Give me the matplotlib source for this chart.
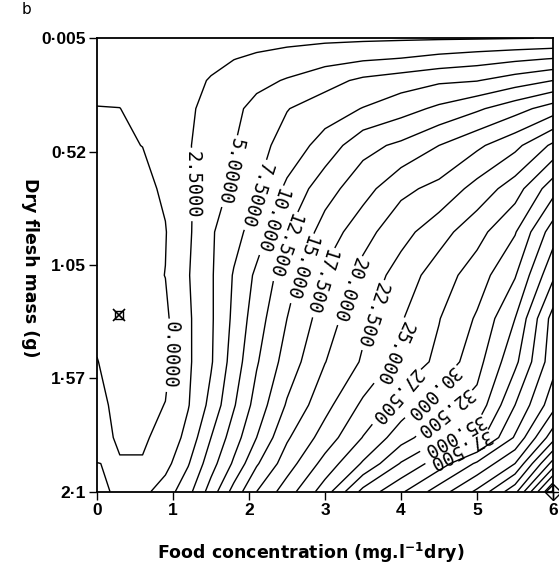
import matplotlib
matplotlib.use("Agg")
import matplotlib.pyplot as plt
import numpy as np

# grid columns: food concentration (mg/l dry)
food = np.array([0, 0.3, 0.6, 0.9, 1.2, 1.5, 1.8, 2.1, 2.5, 3.0, 3.5, 4.0, 4.5, 5.0, 5.5, 6.0])
# grid rows: dry flesh mass (g)
mass = np.array([0.005, 0.1, 0.2, 0.33, 0.5, 0.7, 0.9, 1.1, 1.3, 1.5, 1.7, 1.85, 1.97, 2.1])

# response surface, one row per mass value
growth = np.array([
    [1.0, 1.05, 1.1, 1.2, 1.3, 1.4, 1.5, 1.6, 1.75, 2.0, 2.1, 2.2, 2.28, 2.35, 2.45, 2.55],
    [0.8, 0.85, 0.95, 1.1, 1.4, 1.8, 2.45, 2.9, 3.5, 4.1, 4.7, 5.1, 5.8, 6.4, 7.0, 7.6],
    [0.5, 0.55, 0.75, 1.1, 1.7, 2.7, 3.6, 4.3, 5.2, 6.6, 8.0, 8.8, 9.6, 9.9, 11.2, 12.5],
    [-0.05, -0.02, 0.5, 1.1, 2.1, 3.3, 4.4, 5.8, 7.4, 8.8, 10.1, 11.5, 13.0, 14.6, 16.5, 18.7],
    [-0.3, -0.2, 0.02, 1.0, 2.3, 3.7, 4.9, 6.6, 8.5, 11.0, 14.2, 15.5, 17.5, 19.5, 21.8, 25.5],
    [-0.4, -0.5, -0.5, 0.3, 2.2, 3.8, 5.5, 7.4, 10.5, 14.0, 16.5, 19.4, 20.7, 23.4, 26.3, 31.5],
    [-0.5, -0.7, -0.6, -0.1, 2.1, 4.7, 6.6, 8.7, 12.35, 16.0, 19.1, 21.6, 24.0, 26.6, 29.8, 36.3],
    [-0.5, -0.8, -0.6, 0.03, 2.35, 4.7, 7.7, 10.5, 13.9, 17.9, 20.8, 23.6, 26.25, 28.75, 32.3, 39.5],
    [-0.4, -1.0, -0.8, -0.42, 2.12, 4.66, 8.04, 11.36, 15.0, 18.75, 21.97, 24.8, 27.4, 30.3, 35.0, 43.5],
    [0.05, -0.7, -0.8, -0.5, 2.1, 4.74, 8.64, 12.25, 16.07, 19.93, 22.8, 25.8, 28.1, 31.6, 36.9, 44.0],
    [0.4, -0.4, -0.6, 0.05, 2.35, 5.74, 9.75, 13.5, 17.77, 21.7, 25.5, 28.6, 31.6, 33.3, 40.0, 46.5],
    [0.25, -0.1, -0.3, 0.7, 3.33, 7.5, 11.3, 15.0, 19.67, 23.6, 27.6, 31.4, 34.5, 36.3, 42.8, 51.5],
    [-0.01, 0.05, 0.15, 1.67, 4.8, 8.95, 12.9, 17.2, 21.3, 25.9, 30.3, 35.2, 38.8, 42.9, 47.5, 58.5],
    [-0.4, 0.3, 1.82, 3.7, 6.7, 11.1, 15.96, 20.0, 23.8, 28.75, 35.8, 39.6, 43.75, 48.0, 54.2, 68.0],
])

levels = np.arange(0, 70, 2.5)
labelled = levels[:16]

# where each contour label sits (food, mass)
label_pos = [(0.96, 1.47), (1.29, 0.68), (1.76, 0.62), (2.10, 0.73), (2.33, 0.85),
             (2.51, 0.97), (2.71, 1.07), (2.96, 1.13), (3.33, 1.17), (3.60, 1.28),
             (3.83, 1.45), (3.94, 1.66), (4.40, 1.64), (4.56, 1.73), (4.67, 1.83),
             (4.75, 1.89)]

# optimum mark and the corner mark
opt_food, opt_mass = [0.29], [1.284]
corner_food, corner_mass = [6.0], [2.1]

ytick_vals = np.linspace(0.005, 2.1, 5)
ytick_labels = ["0·005", "0·52", "1·05", "1·57", "2·1"]
xtick_vals = [0, 1, 2, 3, 4, 5, 6]

fig = plt.figure(figsize=(5.59, 5.70), dpi=100)
ax = fig.add_axes([0.1735, 0.1374, 0.8158, 0.7954])
ax.set_xlim(0, 6)
ax.set_ylim(2.1, 0.005)

cs = ax.contour(food, mass, growth, levels=levels, colors="black", linewidths=1.0)


def nearest_on_path(path, point):
    """Closest point (screen space) on a contour path to a data point."""
    verts = ax.transData.transform(path.vertices)
    codes = path.codes
    p = ax.transData.transform(point)
    best, best_d = None, np.inf
    for k in range(len(verts) - 1):
        if codes is not None and codes[k + 1] == 1:
            continue
        a, b = verts[k], verts[k + 1]
        ab = b - a
        t = np.clip(np.dot(p - a, ab) / max(np.dot(ab, ab), 1e-12), 0, 1)
        q = a + t * ab
        d = np.sum((p - q) ** 2)
        if d < best_d:
            best, best_d = q, d
    return tuple(ax.transData.inverted().transform(best))


paths = cs.get_paths()
snapped = [nearest_on_path(paths[list(levels).index(lev)], pos)
           for lev, pos in zip(labelled, label_pos)]

fmt = lambda v: f"{v:.4f}"[:6]
with plt.rc_context({"font.family": "DejaVu Sans Mono"}):
    cs.clabel(labelled, manual=snapped, inline=True, fmt=fmt, fontsize=13.5, inline_spacing=3)

# labels read downward along the lines
for t in cs.labelTexts:
    r = t.get_rotation() % 360
    if r < 180:
        t.set_rotation(r + 180)

ax.plot(opt_food, opt_mass, marker="s", ms=6, mfc="none", mec="black", mew=1.0, ls="none")
ax.plot(opt_food, opt_mass, marker="x", ms=8, color="black", mew=1.2, ls="none")
ax.plot(corner_food, corner_mass, marker="D", ms=8, mfc="none", mec="black", mew=1.0,
        ls="none", clip_on=False)
ax.plot(corner_food, corner_mass, marker="+", ms=10, color="black", mew=1.0,
        ls="none", clip_on=False)

ax.set_xticks(xtick_vals)
ax.set_xticklabels([str(v) for v in xtick_vals])
ax.set_yticks(ytick_vals)
ax.set_yticklabels(ytick_labels)
for lab in ax.get_xticklabels() + ax.get_yticklabels():
    lab.set_fontfamily("Liberation Sans")
    lab.set_fontweight("bold")
    lab.set_fontsize(12.5)
ax.tick_params(direction="out", length=6, width=1.0, pad=2)
for sp in ax.spines.values():
    sp.set_linewidth(1.3)

ax.set_xlabel(r"Food concentration (mg.l$^{\mathbf{-1}}$dry)", fontsize=12.5,
              fontweight="bold", fontfamily="DejaVu Sans")
ax.xaxis.set_label_coords(0.469, -0.135)
ax.xaxis.label.set_va("center")
ax.set_ylabel("Dry flesh mass (g)", fontsize=12.5, fontweight="bold",
              fontfamily="DejaVu Sans", rotation=-90)
ax.yaxis.set_label_coords(-0.147, 0.493)
ax.yaxis.label.set_va("center")
ax.yaxis.label.set_ha("center")

fig.text(22 / 559, 1 - 10 / 570, "b", fontsize=11, ha="left", va="center")

fig.savefig("out.png", dpi=100)
